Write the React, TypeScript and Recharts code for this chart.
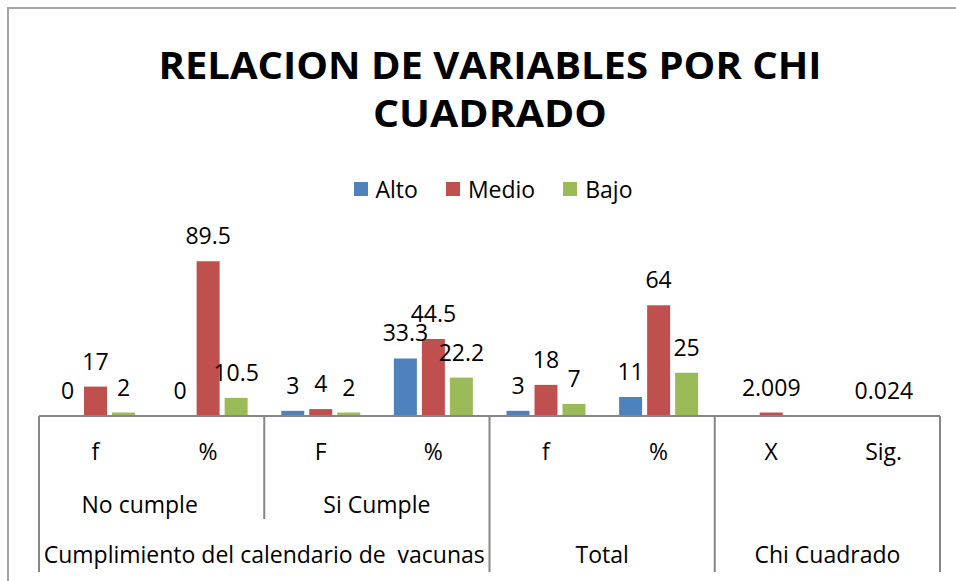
import React from "react";
import { BarChart, Bar, XAxis, YAxis, Legend, LabelList } from "recharts";

// Tabla de relación por Chi cuadrado (categorías de 3 niveles)
const categories = ["f", "%", "F", "%", "f", "%", "X", "Sig."];
const subgroups = [
  "No cumple    ",
  "No cumple    ",
  "Si Cumple",
  "Si Cumple",
  "",
  "",
  "",
  "",
];
const groups = [
  "Cumplimiento del calendario de  vacunas",
  "Cumplimiento del calendario de  vacunas",
  "Cumplimiento del calendario de  vacunas",
  "Cumplimiento del calendario de  vacunas",
  "Total",
  "Total",
  "Chi Cuadrado",
  "Chi Cuadrado",
];

const seriesNames = ["Alto", "Medio", "Bajo"];
const alto = [0, 0, 3, 33.3, 3, 11, null, null];
const medio = [17, 89.5, 4, 44.5, 18, 64, 2.009, 0.024];
const bajo = [2, 10.5, 2, 22.2, 7, 25, null, null];

const data = categories.map((cat, i) => ({
  cat,
  alto: alto[i],
  medio: medio[i],
  bajo: bajo[i],
}));

const W = 956;
const H = 581;
const MARGIN = { top: 243, right: 16, bottom: 0, left: 39 };
const PLOT_W = W - MARGIN.left - MARGIN.right;
const FONT = "'Open Sans', sans-serif";
const LINE = "#868686";

function spanOf(list: string[], i: number) {
  let start = i;
  while (start > 0 && list[start - 1] === list[i]) start--;
  let end = i;
  while (end < list.length - 1 && list[end + 1] === list[i]) end++;
  return { start, end };
}

function CategoryTick(props: any) {
  const { x, y, index } = props;
  const n = categories.length;
  const band = (props.width ?? PLOT_W) / n;
  const left = x - band / 2;
  const out: React.ReactNode[] = [];

  out.push(
    <text key="l1" x={x} y={y + 44} textAnchor="middle" fontSize={23} fill="#000">
      {categories[index]}
    </text>
  );

  const sub = spanOf(subgroups, index);
  if (subgroups[index] && sub.start === index) {
    const cx = left + ((sub.end - sub.start + 1) * band) / 2;
    out.push(
      <text key="l2" x={cx} y={y + 97} textAnchor="middle" fontSize={23} fill="#000" style={{ whiteSpace: "pre" }}>
        {subgroups[index]}
      </text>
    );
  }

  const grp = spanOf(groups, index);
  if (grp.start === index) {
    const cx = left + ((grp.end - grp.start + 1) * band) / 2;
    out.push(
      <text key="l3" x={cx} y={y + 147} textAnchor="middle" fontSize={23} fill="#000" style={{ whiteSpace: "pre" }}>
        {groups[index]}
      </text>
    );
    out.push(<line key="s3" x1={left} x2={left} y1={y} y2={y + 156} stroke={LINE} strokeWidth={2} />);
  } else if (subgroups[index] !== subgroups[index - 1]) {
    out.push(<line key="s2" x1={left} x2={left} y1={y} y2={y + 103} stroke={LINE} strokeWidth={2} />);
  }
  if (index === n - 1) {
    out.push(
      <line key="end" x1={left + band} x2={left + band} y1={y} y2={y + 156} stroke={LINE} strokeWidth={2} />
    );
  }
  return <g>{out}</g>;
}

// label above each bar, zero values included
function BarValue(props: any) {
  const { x, y, width, value } = props;
  if (value === null || value === undefined) return null;
  return (
    <text x={x + width / 2} y={y - 17} textAnchor="middle" fontSize={23} fill="#000">
      {String(value)}
    </text>
  );
}

function LegendContent({ payload }: any) {
  const items = [...(payload || [])].sort(
    (a: any, b: any) => seriesNames.indexOf(a.value) - seriesNames.indexOf(b.value)
  );
  return (
    <div
      style={{
        display: "flex",
        justifyContent: "center",
        alignItems: "center",
        fontSize: 23,
        lineHeight: "26px",
        fontFamily: FONT,
        color: "#000",
      }}
    >
      {items.map((p: any, i: number) => (
        <span key={p.value} style={{ display: "flex", alignItems: "center", marginLeft: i ? 28 : 0 }}>
          <span style={{ width: 14, height: 14, background: p.color, marginRight: 8, display: "inline-block" }} />
          {p.value}
        </span>
      ))}
    </div>
  );
}

export default function App() {
  return (
    <div
      style={{
        position: "absolute",
        left: 0,
        top: 0,
        width: W,
        height: H,
        overflow: "hidden",
        background: "#fff",
        fontFamily: FONT,
      }}
    >
      <div
        style={{
          position: "absolute",
          left: 7,
          top: 7,
          width: 1200,
          height: 900,
          border: "2px solid #a6a6a6",
        }}
      />
      <svg width={W} height={140} style={{ position: "absolute", left: 0, top: 0 }}>
        <text x={490} y={79} textAnchor="middle" fontSize={37} fontWeight={700} textLength={663} lengthAdjust="spacingAndGlyphs" fill="#000">
          RELACION DE VARIABLES POR CHI
        </text>
        <text x={490} y={127} textAnchor="middle" fontSize={37} fontWeight={700} textLength={234} lengthAdjust="spacingAndGlyphs" fill="#000">
          CUADRADO
        </text>
      </svg>
      <div style={{ position: "absolute", left: 0, top: 0 }}>
        <BarChart width={W} height={H} data={data} margin={MARGIN} barGap={5}>
          <XAxis
            dataKey="cat"
            height={165}
            interval={0}
            tickLine={false}
            tickSize={0}
            tickMargin={0}
            axisLine={{ stroke: LINE, strokeWidth: 2 }}
            tick={<CategoryTick />}
          />
          <YAxis hide domain={[0, 100]} type="number" />
          <Legend
            layout="horizontal"
            verticalAlign="middle"
            align="center"
            content={<LegendContent />}
            wrapperStyle={{ top: 176, left: 30, width: 926, height: 26 }}
          />
          <Bar dataKey="alto" name="Alto" fill="#4F81BD" barSize={23} minPointSize={0.001} isAnimationActive={false}>
            <LabelList dataKey="alto" content={<BarValue />} />
          </Bar>
          <Bar dataKey="medio" name="Medio" fill="#C0504D" barSize={23} minPointSize={0.001} isAnimationActive={false}>
            <LabelList dataKey="medio" content={<BarValue />} />
          </Bar>
          <Bar dataKey="bajo" name="Bajo" fill="#9BBB59" barSize={23} minPointSize={0.001} isAnimationActive={false}>
            <LabelList dataKey="bajo" content={<BarValue />} />
          </Bar>
        </BarChart>
      </div>
    </div>
  );
}
